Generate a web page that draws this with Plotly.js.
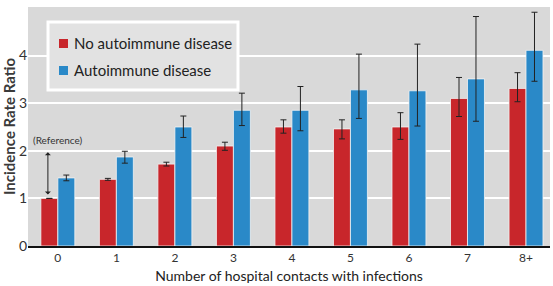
<!DOCTYPE html>
<html>
<head>
<meta charset="utf-8">
<script src="https://cdn.plot.ly/plotly-3.0.1.min.js"></script>
<style>html,body{margin:0;padding:0;background:#fff;}#chart{width:553px;height:286px;}</style>
</head>
<body>
<div id="chart"></div>
<script>
const categories = ["0", "1", "2", "3", "4", "5", "6", "7", "8+"];
const seriesNames = ["No autoimmune disease", "Autoimmune disease"];
const seriesColors = ["#C8262B", "#2A89C8"];
const noAutoimmune = [1.0, 1.40, 1.72, 2.10, 2.50, 2.46, 2.50, 3.10, 3.31];
const noAutoimmuneUpper = [1.0, 1.42, 1.76, 2.18, 2.65, 2.65, 2.80, 3.54, 3.64];
const noAutoimmuneLower = [1.0, 1.38, 1.68, 2.01, 2.37, 2.25, 2.24, 2.72, 3.03];
const autoimmune = [1.43, 1.87, 2.50, 2.85, 2.85, 3.28, 3.26, 3.51, 4.11];
const autoimmuneUpper = [1.49, 1.99, 2.73, 3.21, 3.35, 4.03, 4.24, 4.82, 4.91];
const autoimmuneLower = [1.37, 1.74, 2.28, 2.53, 2.42, 2.68, 2.52, 2.62, 3.46];
const yTicks = [0, 1, 2, 3, 4, 5];

const hasErr = noAutoimmune.map((v, i) => i > 0);
const font = "Lato, Open Sans, sans-serif";

function errPlus(vals, up) { return vals.map((v, i) => +(up[i] - v).toFixed(3)); }
function errMinus(vals, lo) { return vals.map((v, i) => +(v - lo[i]).toFixed(3)); }

const traces = [
  {
    type: "bar", name: seriesNames[0], x: categories, y: noAutoimmune,
    marker: { color: seriesColors[0], line: { color: "#f2f2f2", width: 0.8 } },
    error_y: { type: "data", symmetric: false,
      array: errPlus(noAutoimmune, noAutoimmuneUpper).map((e, i) => hasErr[i] ? e : null),
      arrayminus: errMinus(noAutoimmune, noAutoimmuneLower).map((e, i) => hasErr[i] ? e : null),
      color: "#222", thickness: 1, width: 3 }
  },
  {
    type: "bar", name: seriesNames[1], x: categories, y: autoimmune,
    marker: { color: seriesColors[1], line: { color: "#f2f2f2", width: 0.8 } },
    error_y: { type: "data", symmetric: false,
      array: errPlus(autoimmune, autoimmuneUpper),
      arrayminus: errMinus(autoimmune, autoimmuneLower),
      color: "#222", thickness: 1, width: 3 }
  }
];

// Legend drawn as a box with swatches and labels (paper coordinates)
const W = 553, H = 286, ML = 28, MR = 3, MT = 7, MB = 40;
const pw = W - ML - MR, ph = H - MT - MB;
const px = v => (v - ML) / pw;           // pixel x -> paper
const py = v => 1 - (v - MT) / ph;       // pixel y -> paper

const legendShapes = [
  { type: "rect", xref: "paper", yref: "paper", x0: px(48), x1: px(238), y0: py(90), y1: py(22),
    fillcolor: "#e2e2e2", line: { color: "#ffffff", width: 3 }, layer: "above" }
];
const legendAnnotations = [];
seriesNames.forEach((name, i) => {
  const cy = 43 + i * 27;
  legendShapes.push({ type: "rect", xref: "paper", yref: "paper",
    x0: px(59), x1: px(68), y0: py(cy + 5), y1: py(cy - 4),
    fillcolor: seriesColors[i], line: { width: 0 }, layer: "above" });
  legendAnnotations.push({ xref: "paper", yref: "paper", x: px(72), y: py(cy), xanchor: "left", yanchor: "middle",
    text: name, showarrow: false, font: { family: font, size: 15, color: "#222" } });
});

const layout = {
  width: W, height: H,
  margin: { l: ML, r: MR, t: MT, b: MB },
  paper_bgcolor: "#ffffff",
  plot_bgcolor: "#d9d9d9",
  barmode: "group",
  bargap: 0.42,
  bargroupgap: 0.0,
  font: { family: font, color: "#333" },
  showlegend: false,
  xaxis: {
    type: "category", range: [-0.51, 8.41],
    showgrid: false, zeroline: false, showline: true, linecolor: "#111", linewidth: 1.5,
    ticks: "", tickfont: { family: font, size: 12, color: "#333" },
    title: { text: "Number of hospital contacts with infections", font: { family: font, size: 14, color: "#222" }, standoff: 7 }
  },
  yaxis: {
    range: [0, 5.02], tickvals: yTicks, ticktext: yTicks.map(String),
    showgrid: true, gridcolor: "#ffffff", gridwidth: 2, zeroline: false,
    ticks: "", tickfont: { family: font, size: 14, color: "#333" },
    title: { text: "Incidence Rate Ratio", font: { family: font, size: 15, weight: "bold", color: "#3a3a3a" }, standoff: 0 }
  },
  shapes: legendShapes,
  annotations: [
    { x: -0.17, y: 1.08, ax: -0.17, ay: 2.0, xref: "x", yref: "y", axref: "x", ayref: "y",
      text: "", showarrow: true, arrowhead: 1, startarrowhead: 1, arrowside: "end+start",
      arrowsize: 1, arrowwidth: 1, arrowcolor: "#222" },
    { x: -0.46, y: 2.0, xref: "x", yref: "y", xanchor: "left", yshift: 11, text: "(Reference)", showarrow: false,
      font: { family: font, size: 10, color: "#333" } }
  ].concat(legendAnnotations)
};

Plotly.newPlot("chart", traces, layout, { staticPlot: true, displayModeBar: false });
</script>
</body>
</html>
